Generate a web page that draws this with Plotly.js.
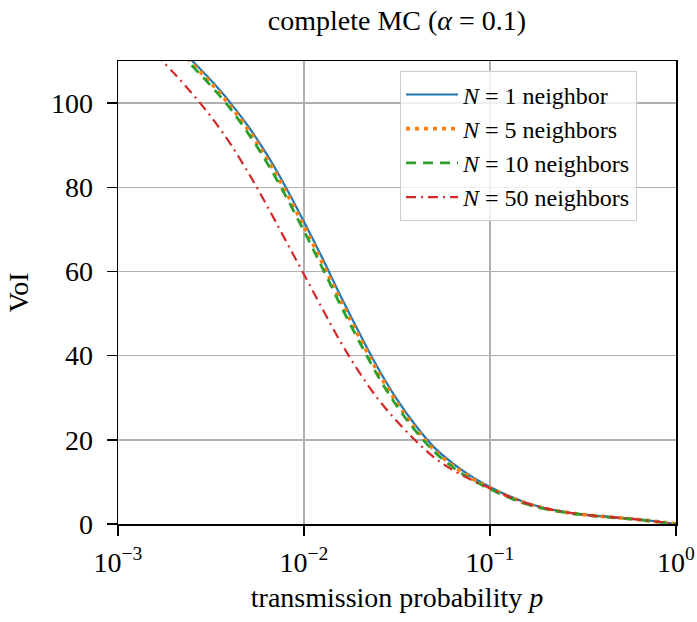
<!DOCTYPE html>
<html>
<head>
<meta charset="utf-8">
<script src="https://cdn.plot.ly/plotly-3.0.1.min.js"></script>
<style>html,body{margin:0;padding:0;background:#fff;}#chart{width:697px;height:622px;}</style>
</head>
<body>
<div id="chart"></div>
<script>
// transmission probability p
const pValues = [0.00158, 0.002, 0.00251, 0.00316, 0.00398, 0.00501, 0.00631, 0.00794, 0.01, 0.0126, 0.0158, 0.02, 0.0251, 0.0316, 0.0398, 0.0501, 0.0631, 0.0794, 0.1, 0.126, 0.158, 0.2, 0.251, 0.316, 0.398, 0.501, 0.631, 0.794, 1.0];
// VoI for each neighbourhood size
const voiN1  = [118.5, 114.4, 110.0, 105.4, 100.3, 94.5, 87.8, 80.2, 71.8, 63.0, 54.0, 45.1, 36.9, 29.6, 23.4, 18.2, 14.4, 11.3, 8.8, 6.7, 5.0, 3.75, 2.9, 2.3, 1.85, 1.5, 1.1, 0.6, 0];
const voiN5  = [118.0, 113.9, 109.4, 104.8, 99.6, 93.7, 86.9, 79.2, 70.8, 61.9, 52.9, 44.1, 36.0, 28.8, 22.7, 17.6, 13.9, 10.95, 8.55, 6.5, 4.85, 3.65, 2.82, 2.24, 1.8, 1.45, 1.05, 0.55, 0];
const voiN10 = [117.4, 113.3, 108.8, 104.1, 98.9, 92.8, 85.9, 78.1, 69.6, 60.7, 51.8, 43.0, 35.0, 28.0, 22.1, 17.2, 13.5, 10.6, 8.3, 6.3, 4.7, 3.55, 2.75, 2.2, 1.75, 1.4, 1.0, 0.5, 0];
const voiN50 = [111.8, 107.1, 102.2, 96.8, 90.6, 83.5, 75.7, 67.5, 59.3, 51.0, 43.1, 35.8, 29.6, 24.4, 19.8, 15.8, 12.8, 10.5, 8.5, 6.5, 4.9, 3.7, 2.85, 2.25, 1.8, 1.45, 1.05, 0.55, 0];
const seriesNames = ['<i>N</i> = 1 neighbor', '<i>N</i> = 5 neighbors', '<i>N</i> = 10 neighbors', '<i>N</i> = 50 neighbors'];
const xTickVals = [0.001, 0.01, 0.1, 1];
const xTickText = ['10<sup>\u22123</sup>', '10<sup>\u22122</sup>', '10<sup>\u22121</sup>', '10<sup>0</sup>'];
const yTickVals = [0, 20, 40, 60, 80, 100];

const FONT = "'Liberation Serif', 'Times New Roman', serif";
const traces = [
  {x: pValues, y: voiN1, name: seriesNames[0], mode: 'lines', line: {color: '#1f77b4', width: 2.2, shape: 'spline', smoothing: 1}},
  {x: pValues, y: voiN5, name: seriesNames[1], mode: 'lines', line: {color: '#ff7f0e', width: 3.8, dash: '4px,5px', shape: 'spline', smoothing: 1}},
  {x: pValues, y: voiN10, name: seriesNames[2], mode: 'lines', line: {color: '#2ca02c', width: 2.8, dash: '10px,7px', shape: 'spline', smoothing: 1}},
  {x: pValues, y: voiN50, name: seriesNames[3], mode: 'lines', line: {color: '#d62728', width: 2.2, dash: '10px,5px,2px,5px', shape: 'spline', smoothing: 1}}
];

const layout = {
  width: 697, height: 622,
  margin: {l: 118, r: 21, t: 61, b: 98},
  paper_bgcolor: '#fff', plot_bgcolor: '#fff',
  font: {family: FONT, size: 28, color: '#000'},
  showlegend: true,
  title: {text: 'complete MC (<i>\u03b1</i> = 0.1)', font: {family: FONT, size: 28, color: '#000'}, x: 0.5, xref: 'paper', y: 0.967, yref: 'container', yanchor: 'middle'},
  xaxis: {
    type: 'log', range: [-3, 0],
    tickvals: xTickVals, ticktext: xTickText,
    ticks: 'outside', ticklen: 10, tickwidth: 1.5, tickcolor: '#000',
    showline: true, linecolor: '#000', linewidth: 1.5, mirror: true,
    showgrid: true, gridcolor: '#b0b0b0', gridwidth: 1.5,
    zeroline: false,
    ticklabelstandoff: 3,
    tickfont: {family: FONT, size: 28, color: '#000'},
    title: {text: 'transmission probability <i>p</i>', font: {family: FONT, size: 28, color: '#000'}, standoff: 10}
  },
  yaxis: {
    range: [0, 110],
    tickvals: yTickVals,
    ticks: 'outside', ticklen: 10, tickwidth: 1.5, tickcolor: '#000',
    showline: true, linecolor: '#000', linewidth: 1.5, mirror: true,
    showgrid: true, gridcolor: '#b0b0b0', gridwidth: 1.5,
    zeroline: false,
    ticklabelstandoff: 8,
    tickfont: {family: FONT, size: 28, color: '#000'},
    title: {text: 'VoI', font: {family: FONT, size: 28, color: '#000'}, standoff: 14}
  },
  legend: {
    x: 0.505, xanchor: 'left', y: 0.978, yanchor: 'top',
    bgcolor: 'rgba(255,255,255,0.8)', bordercolor: '#cccccc', borderwidth: 1.2,
    font: {family: FONT, size: 24, color: '#000'},
    itemwidth: 52, entrywidth: 255, tracegroupgap: 0
  }
};

Plotly.newPlot('chart', traces, layout, {displayModeBar: false, staticPlot: true});
</script>
</body>
</html>
